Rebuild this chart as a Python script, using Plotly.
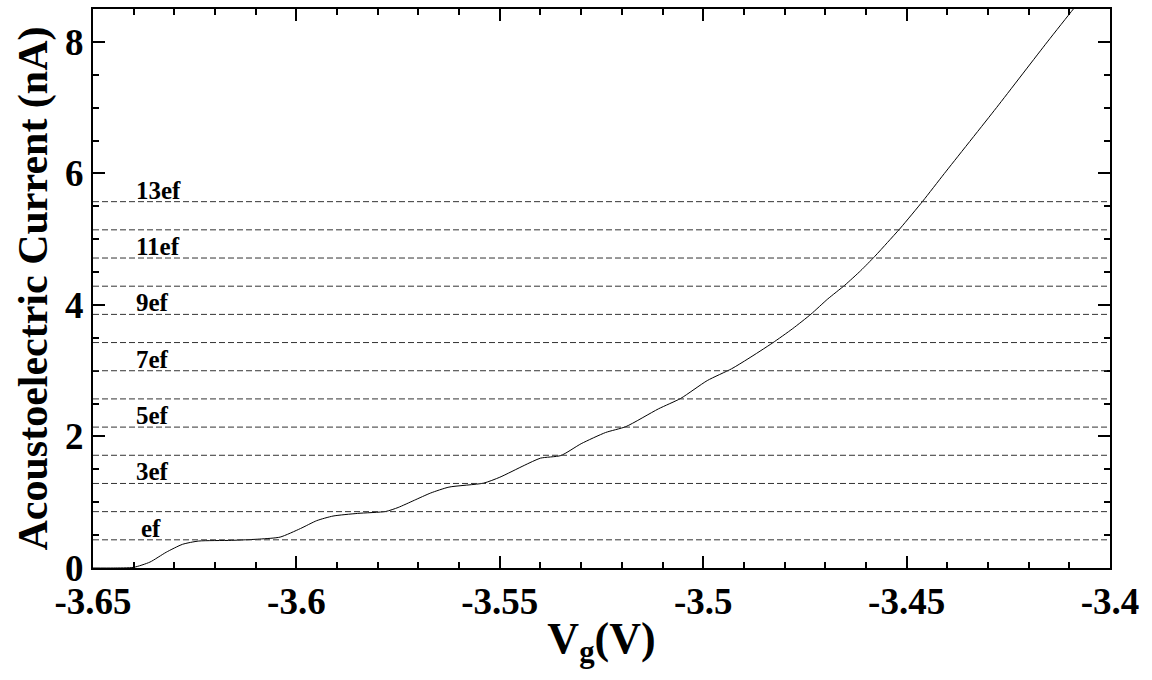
import plotly.graph_objects as go

# Data
vg = [-3.650, -3.645, -3.640, -3.636, -3.632, -3.628, -3.624, -3.616, -3.609, -3.604,
      -3.599, -3.595, -3.591, -3.585, -3.578, -3.575, -3.571, -3.567, -3.5625, -3.554,
      -3.550, -3.544, -3.540, -3.535, -3.530, -3.524, -3.519, -3.511, -3.5055, -3.499,
      -3.493, -3.489, -3.483, -3.478, -3.4735, -3.4694, -3.4652, -3.4613, -3.4578, -3.4547,
      -3.4515, -3.446, -3.4407, -3.4279, -3.4154, -3.409, -3.4064]
current = [0.0, 0.0, 0.01, 0.09, 0.24, 0.36, 0.41, 0.42, 0.44, 0.47,
           0.60, 0.72, 0.79, 0.83, 0.86, 0.92, 1.03, 1.14, 1.23, 1.29,
           1.38, 1.56, 1.67, 1.71, 1.89, 2.06, 2.15, 2.42, 2.58, 2.85,
           3.03, 3.18, 3.42, 3.64, 3.86, 4.09, 4.30, 4.52, 4.74, 4.95,
           5.17, 5.58, 6.00, 7.00, 8.00, 8.50, 8.70]

EF = 0.4285  # nA
multiples = list(range(1, 14))
label_multiples = [1, 3, 5, 7, 9, 11, 13]
label_texts = ["ef", "3ef", "5ef", "7ef", "9ef", "11ef", "13ef"]
label_x = [-3.6388, -3.6399, -3.6399, -3.6399, -3.6399, -3.6399, -3.6399]

x_ticks = [-3.65, -3.6, -3.55, -3.5, -3.45, -3.4]
x_ticktext = ["-3.65", "-3.6", "-3.55", "-3.5", "-3.45", "-3.4"]
y_ticks = [0, 2, 4, 6, 8]

FONT = "Liberation Serif"

fig = go.Figure()
fig.add_trace(go.Scatter(x=vg, y=current, mode="lines",
                         line=dict(color="black", width=1, shape="spline", smoothing=0.6),
                         showlegend=False, hoverinfo="skip"))

for m in multiples:
    fig.add_hline(y=m * EF, line=dict(color="#333333", width=1, dash="6px,3px"))

for m, t, xl in zip(label_multiples, label_texts, label_x):
    fig.add_annotation(x=xl, y=m * EF, text=t, showarrow=False,
                       xanchor="left", yanchor="bottom", yshift=-4,
                       font=dict(family=FONT, size=25, color="black", weight="bold"))

axis_common = dict(showline=True, linecolor="black", linewidth=2, mirror="ticks",
                   ticks="inside", ticklen=12, tickwidth=2, tickcolor="black",
                   showgrid=False, zeroline=False,
                   tickfont=dict(family=FONT, size=37, color="black", weight="bold"))

fig.update_layout(
    width=1152, height=680,
    margin=dict(l=93, r=42, t=7, b=112),
    paper_bgcolor="white", plot_bgcolor="white",
    xaxis=dict(range=[-3.65, -3.4], tickvals=x_ticks, ticktext=x_ticktext,
               minor=dict(ticks="inside", ticklen=6, tickwidth=2, tickcolor="black", dtick=0.01,
                          tick0=-3.65),
               title=dict(text="V<sub>g</sub>(V)", standoff=1,
                          font=dict(family=FONT, size=44, color="black", weight="bold")),
               **axis_common),
    yaxis=dict(range=[0, 8.5], tickvals=y_ticks,
               minor=dict(ticks="inside", ticklen=6, tickwidth=2, tickcolor="black", dtick=0.5,
                          tick0=0),
               title=dict(text="Acoustoelectric Current (nA)", standoff=4,
                          font=dict(family=FONT, size=42, color="black", weight="bold")),
               **axis_common),
)

fig.write_html("out.html")
